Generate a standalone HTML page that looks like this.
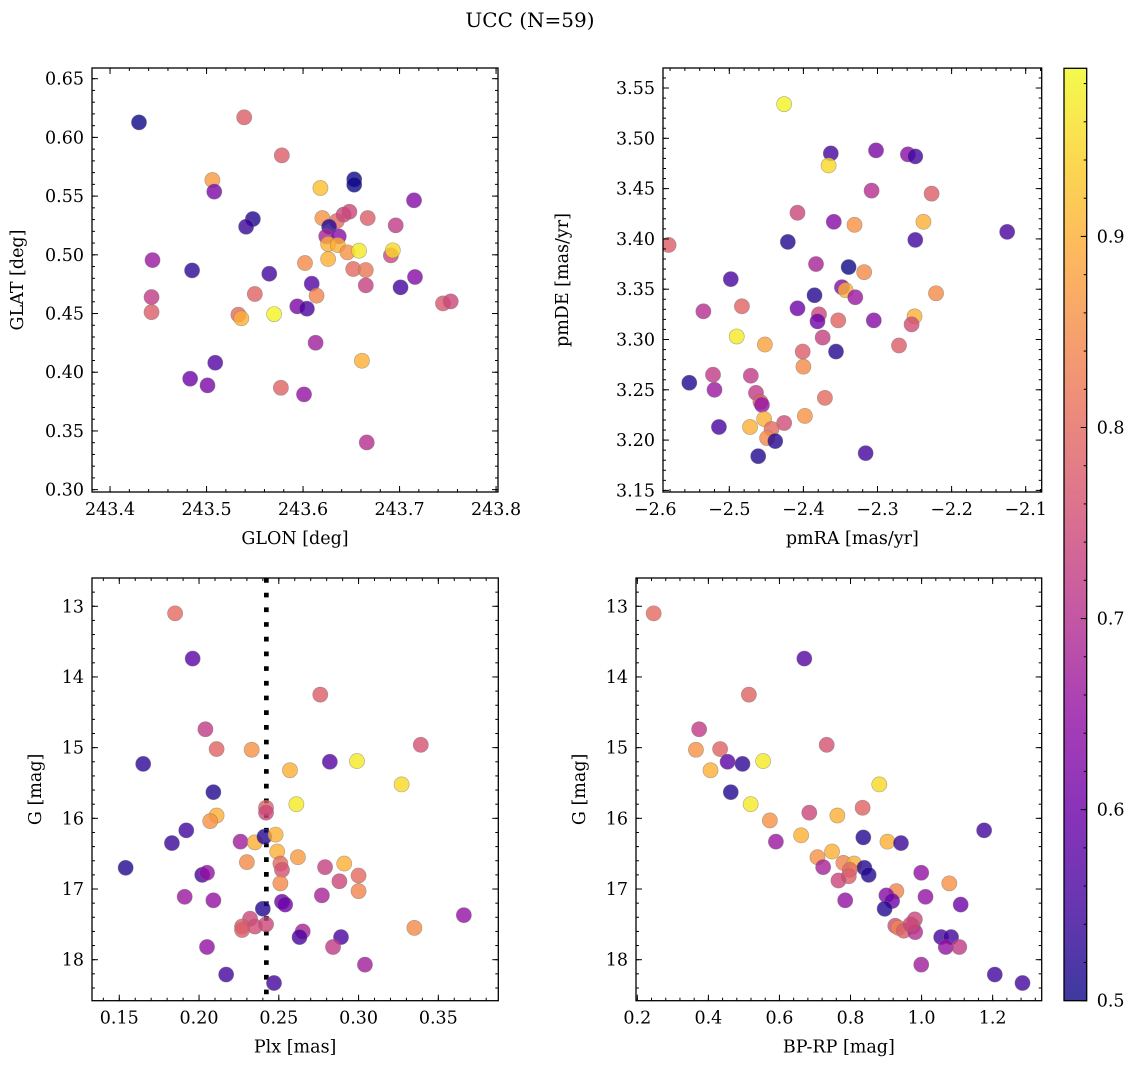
<!DOCTYPE html>
<html><head><meta charset="utf-8"><style>
html,body{margin:0;padding:0;background:#fff;}
svg{display:block;font-family:"DejaVu Serif","Liberation Serif",serif;}
</style></head><body>
<svg id="fig" width="1136" height="1068" viewBox="0 0 1136 1068" xmlns="http://www.w3.org/2000/svg">
<rect width="1136" height="1068" fill="#fff"/>
<text x="530" y="27" font-size="20" text-anchor="middle">UCC (N=59)</text>
</svg>
<script>
const tlGlon=[243.430,243.539,243.578,243.506,243.508,243.548,243.541,243.618,243.653,243.653,243.715,243.620,243.635,243.642,243.648,243.667,243.696,243.627,243.624,243.637,243.626,243.636,243.646,243.658,243.691,243.693,243.626,243.602,243.444,243.485,243.565,243.652,243.665,243.716,243.609,243.665,243.701,243.550,243.614,243.443,243.443,243.745,243.753,243.594,243.604,243.533,243.536,243.570,243.613,243.661,243.509,243.483,243.501,243.577,243.601,243.666];
const tlGlat=[0.6128,0.6171,0.5847,0.5637,0.5538,0.5305,0.5239,0.5569,0.5643,0.5597,0.5464,0.5313,0.5288,0.5342,0.5367,0.5313,0.5251,0.5239,0.5157,0.5157,0.5092,0.5083,0.5021,0.5035,0.4995,0.5038,0.4964,0.4930,0.4955,0.4867,0.4839,0.4879,0.4870,0.4811,0.4754,0.4740,0.4723,0.4666,0.4652,0.4640,0.4512,0.4586,0.4603,0.4561,0.4541,0.4490,0.4459,0.4495,0.4251,0.4098,0.4081,0.3945,0.3888,0.3868,0.3811,0.3402];
const tlProb=[0.50,0.78,0.78,0.87,0.62,0.52,0.54,0.92,0.50,0.50,0.63,0.86,0.80,0.74,0.74,0.78,0.72,0.52,0.68,0.64,0.90,0.90,0.86,0.97,0.74,0.95,0.90,0.85,0.66,0.53,0.55,0.80,0.82,0.63,0.57,0.73,0.55,0.79,0.84,0.72,0.78,0.77,0.74,0.62,0.56,0.80,0.90,0.98,0.67,0.90,0.57,0.60,0.62,0.79,0.65,0.70];

const trPmra=[-2.426,-2.363,-2.366,-2.302,-2.259,-2.249,-2.308,-2.227,-2.408,-2.359,-2.331,-2.238,-2.582,-2.421,-2.249,-2.125,-2.383,-2.339,-2.318,-2.498,-2.348,-2.343,-2.330,-2.221,-2.385,-2.535,-2.483,-2.408,-2.379,-2.381,-2.353,-2.305,-2.250,-2.254,-2.490,-2.452,-2.374,-2.271,-2.401,-2.356,-2.400,-2.522,-2.554,-2.520,-2.471,-2.464,-2.458,-2.456,-2.371,-2.398,-2.453,-2.426,-2.514,-2.472,-2.443,-2.449,-2.438,-2.461,-2.316];
const trPmde=[3.534,3.485,3.473,3.488,3.484,3.482,3.448,3.445,3.426,3.417,3.414,3.417,3.394,3.397,3.399,3.407,3.375,3.372,3.367,3.360,3.352,3.349,3.342,3.346,3.344,3.328,3.333,3.331,3.325,3.318,3.319,3.319,3.323,3.315,3.303,3.295,3.302,3.294,3.288,3.288,3.273,3.265,3.257,3.250,3.264,3.247,3.238,3.235,3.242,3.224,3.221,3.217,3.213,3.213,3.211,3.202,3.199,3.184,3.187];
const trProb=[0.98,0.55,0.95,0.62,0.64,0.55,0.70,0.78,0.74,0.63,0.86,0.90,0.78,0.52,0.55,0.56,0.68,0.50,0.85,0.56,0.63,0.90,0.66,0.85,0.52,0.70,0.79,0.60,0.74,0.60,0.79,0.63,0.90,0.75,0.97,0.88,0.73,0.78,0.78,0.52,0.85,0.72,0.52,0.66,0.72,0.72,0.79,0.65,0.80,0.86,0.90,0.75,0.56,0.90,0.80,0.85,0.52,0.52,0.55];

const blPlx=[0.185,0.196,0.276,0.204,0.211,0.233,0.339,0.165,0.282,0.299,0.257,0.327,0.209,0.261,0.242,0.242,0.211,0.207,0.192,0.183,0.226,0.235,0.241,0.248,0.249,0.262,0.230,0.251,0.252,0.279,0.291,0.300,0.288,0.251,0.300,0.154,0.202,0.205,0.191,0.209,0.277,0.252,0.254,0.240,0.366,0.232,0.227,0.235,0.242,0.227,0.265,0.263,0.289,0.335,0.205,0.284,0.304,0.217,0.247];
const blG=[13.10,13.74,14.25,14.74,15.02,15.03,14.96,15.23,15.20,15.19,15.32,15.52,15.63,15.80,15.85,15.92,15.96,16.04,16.17,16.35,16.33,16.34,16.26,16.23,16.47,16.55,16.62,16.64,16.73,16.69,16.64,16.81,16.89,16.92,17.03,16.70,16.80,16.77,17.11,17.16,17.09,17.18,17.22,17.28,17.37,17.42,17.53,17.53,17.50,17.58,17.60,17.68,17.68,17.55,17.82,17.82,18.07,18.21,18.33];
const blProb=[0.80,0.58,0.78,0.72,0.79,0.86,0.76,0.53,0.57,0.97,0.90,0.95,0.52,0.97,0.79,0.74,0.90,0.86,0.55,0.54,0.67,0.90,0.52,0.90,0.90,0.87,0.85,0.80,0.76,0.73,0.90,0.80,0.74,0.85,0.84,0.52,0.56,0.65,0.66,0.65,0.68,0.60,0.60,0.52,0.65,0.74,0.78,0.75,0.74,0.78,0.68,0.56,0.56,0.85,0.65,0.72,0.67,0.55,0.55];
const plxMean=[0.2422];

const brBprp=[0.246,0.670,0.514,0.374,0.365,0.433,0.733,0.454,0.496,0.554,0.406,0.881,0.463,0.519,0.834,0.684,0.763,0.573,1.176,0.590,0.661,0.836,0.904,0.942,0.707,0.748,0.723,0.780,0.810,0.839,0.851,0.798,0.795,0.766,0.999,1.078,0.929,0.785,0.901,0.917,1.011,1.110,0.896,0.981,0.926,0.935,0.950,0.975,0.982,0.969,1.055,1.083,1.068,1.106,0.999,1.206,1.284];
const brG=[13.10,13.74,14.25,14.74,15.03,15.02,14.96,15.20,15.23,15.19,15.32,15.52,15.63,15.80,15.85,15.92,15.96,16.03,16.17,16.33,16.24,16.27,16.33,16.35,16.55,16.47,16.69,16.63,16.64,16.70,16.80,16.73,16.82,16.88,16.77,16.92,17.03,17.16,17.09,17.17,17.11,17.22,17.28,17.43,17.52,17.55,17.59,17.53,17.61,17.50,17.68,17.68,17.82,17.82,18.07,18.21,18.33];
const brProb=[0.80,0.57,0.79,0.72,0.86,0.79,0.76,0.58,0.53,0.97,0.90,0.95,0.52,0.97,0.79,0.74,0.90,0.86,0.55,0.66,0.90,0.52,0.90,0.54,0.86,0.90,0.68,0.84,0.90,0.52,0.52,0.80,0.78,0.74,0.65,0.86,0.84,0.65,0.63,0.60,0.65,0.60,0.52,0.74,0.75,0.84,0.78,0.78,0.70,0.74,0.55,0.55,0.65,0.72,0.67,0.55,0.55];

const tlXTicks=[243.4,243.5,243.6,243.7,243.8];
const tlYTicks=[0.30,0.35,0.40,0.45,0.50,0.55,0.60,0.65];
const trXTicks=[-2.6,-2.5,-2.4,-2.3,-2.2,-2.1];
const trYTicks=[3.15,3.20,3.25,3.30,3.35,3.40,3.45,3.50,3.55];
const blXTicks=[0.15,0.20,0.25,0.30,0.35];
const gTicks=[13,14,15,16,17,18];
const brXTicks=[0.2,0.4,0.6,0.8,1.0,1.2];
const cbTicks=[0.5,0.6,0.7,0.8,0.9];
const cbRange=[0.5,0.988];

const FS=17.5;
const NS='http://www.w3.org/2000/svg';
const svg=document.getElementById('fig');
function mk(tag,attrs,parent){const e=document.createElementNS(NS,tag);for(const k in attrs)e.setAttribute(k,attrs[k]);(parent||svg).appendChild(e);return e;}
const stops=[[13,8,135],[65,4,157],[106,0,168],[143,13,164],[177,42,144],[204,71,120],[225,100,98],[242,132,75],[252,166,54],[252,206,37],[240,249,33]];
function plasma(t){t=Math.max(0,Math.min(1,t));const f=t*10;const i=Math.min(9,Math.floor(f));const r=f-i;const a=stops[i],b=stops[i+1];return 'rgb('+[0,1,2].map(k=>Math.round(a[k]+(b[k]-a[k])*r)).join(',')+')';}
function pcol(p){return plasma((p-cbRange[0])/(cbRange[1]-cbRange[0]));}
function fmt(v,d){return v.toFixed(d).replace('-','\u2212');}

function panel(o){
  const g=mk('g',{});
  
  
  const sx=v=>o.x0+(v-o.xmin)/(o.xmax-o.xmin)*(o.x1-o.x0);
  const sy=o.inv?(v=>o.y0+(v-o.ymin)/(o.ymax-o.ymin)*(o.y1-o.y0)):(v=>o.y1-(v-o.ymin)/(o.ymax-o.ymin)*(o.y1-o.y0));
  const cp='cp-'+o.name;
  const cl=mk('clipPath',{id:cp},g);mk('rect',{x:o.x0,y:o.y0,width:o.x1-o.x0,height:o.y1-o.y0},cl);
  const pts=mk('g',{'clip-path':'url(#'+cp+')'},g);
  if(o.vline){const vx=sx(o.vline[0]);const l=mk('line',{x1:vx,x2:vx,y1:o.y0,y2:o.y1,stroke:'#000','stroke-width':4.7,'stroke-dasharray':'4.7 10'},pts);
    
    }
  for(let i=0;i<o.xs.length;i++){
    const c=mk('circle',{cx:sx(o.xs[i]),cy:sy(o.ys[i]),r:7.6,fill:pcol(o.cs[i]),'fill-opacity':0.8,stroke:'#777','stroke-opacity':0.6,'stroke-width':0.6},pts);
    
    
  }
  const tk=mk('g',{stroke:'#000','stroke-width':1},g);
  const mx=o.xminor, my=o.yminor;
  for(let v=Math.ceil(o.xmin/mx)*mx;v<=o.xmax+1e-9;v+=mx){const x=sx(v);mk('line',{x1:x,x2:x,y1:o.y1,y2:o.y1-3},tk);mk('line',{x1:x,x2:x,y1:o.y0,y2:o.y0+3},tk);}
  for(let v=Math.ceil(o.ymin/my)*my;v<=o.ymax+1e-9;v+=my){const y=sy(v);mk('line',{x1:o.x0,x2:o.x0+3,y1:y,y2:y},tk);mk('line',{x1:o.x1,x2:o.x1-3,y1:y,y2:y},tk);}
  o.xt.forEach(v=>{const x=sx(v);if(x>=o.x0-0.5&&x<=o.x1+0.5){mk('line',{x1:x,x2:x,y1:o.y1,y2:o.y1-6},tk);mk('line',{x1:x,x2:x,y1:o.y0,y2:o.y0+6},tk);}
    const t=mk('text',{x:x,y:o.y1+23,'font-size':FS,'text-anchor':'middle'},g);t.textContent=fmt(v,o.xd);
    
    });
  o.yt.forEach(v=>{const y=sy(v);mk('line',{x1:o.x0,x2:o.x0+6,y1:y,y2:y},tk);mk('line',{x1:o.x1,x2:o.x1-6,y1:y,y2:y},tk);
    const t=mk('text',{x:o.x0-8,y:y+6,'font-size':FS,'text-anchor':'end'},g);t.textContent=fmt(v,o.yd);
    
    });
  mk('rect',{x:o.x0,y:o.y0,width:o.x1-o.x0,height:o.y1-o.y0,fill:'none',stroke:'#000','stroke-width':1.3},g);
  const xl=mk('text',{x:(o.x0+o.x1)/2,y:o.y1+52,'font-size':FS,'text-anchor':'middle'},g);xl.textContent=o.xlabel;
  
  
  const ym=(o.y0+o.y1)/2;
  const yl=mk('text',{x:o.ylx,y:ym,'font-size':FS,'text-anchor':'middle',transform:'rotate(-90 '+o.ylx+' '+ym+')'},g);yl.textContent=o.ylabel;
  
  
}
panel({name:'glon-glat-panel',x0:92,x1:498,y0:68,y1:492,xmin:243.3813,xmax:243.802,ymin:0.298,ymax:0.6591,xs:tlGlon,ys:tlGlat,cs:tlProb,xt:tlXTicks,yt:tlYTicks,xd:1,yd:2,xminor:0.02,yminor:0.01,xlabel:'GLON [deg]',ylabel:'GLAT [deg]',ylx:23});
panel({name:'pm-panel',x0:663,x1:1041.7,y0:68,y1:492,xmin:-2.5895,xmax:-2.0784,ymin:3.1484,ymax:3.5699,xs:trPmra,ys:trPmde,cs:trProb,xt:trXTicks,yt:trYTicks,xd:1,yd:2,xminor:0.02,yminor:0.01,xlabel:'pmRA [mas/yr]',ylabel:'pmDE [mas/yr]',ylx:568});
panel({name:'plx-g-panel',x0:92,x1:498.3,y0:578,y1:1000.7,xmin:0.1329,xmax:0.3876,ymin:12.6,ymax:18.58,inv:true,xs:blPlx,ys:blG,cs:blProb,xt:blXTicks,yt:gTicks,xd:2,yd:0,xminor:0.01,yminor:0.2,xlabel:'Plx [mas]',ylabel:'G [mag]',ylx:41,vline:plxMean});
panel({name:'cmd-panel',x0:636,x1:1041.7,y0:578,y1:1000.7,xmin:0.1963,xmax:1.338,ymin:12.6,ymax:18.58,inv:true,xs:brBprp,ys:brG,cs:brProb,xt:brXTicks,yt:gTicks,xd:1,yd:0,xminor:0.04,yminor:0.2,xlabel:'BP-RP [mag]',ylabel:'G [mag]',ylx:585});

const cb=mk('g',{});


const defs=mk('defs',{},cb);
const lg=mk('linearGradient',{id:'cbg',x1:0,y1:1,x2:0,y2:0},defs);
for(let i=0;i<=20;i++){mk('stop',{offset:(i/20),'stop-color':plasma(i/20)},lg);}
const cbx0=1064,cbx1=1086.7,cby0=68.3,cby1=1000.7;
mk('rect',{x:cbx0,y:cby0,width:cbx1-cbx0,height:cby1-cby0,fill:'url(#cbg)','fill-opacity':0.8},cb);
const cy=v=>cby1-(v-cbRange[0])/(cbRange[1]-cbRange[0])*(cby1-cby0);
for(let v=0.5;v<=cbRange[1]+1e-9;v+=0.02){mk('line',{x1:cbx1,x2:cbx1-3,y1:cy(v),y2:cy(v),stroke:'#000','stroke-width':1},cb);}
cbTicks.forEach(v=>{mk('line',{x1:cbx1,x2:cbx1-6,y1:cy(v),y2:cy(v),stroke:'#000','stroke-width':1},cb);
  const t=mk('text',{x:cbx1+10,y:cy(v)+6,'font-size':FS},cb);t.textContent=v.toFixed(1);
  
  });
mk('rect',{x:cbx0,y:cby0,width:cbx1-cbx0,height:cby1-cby0,fill:'none',stroke:'#000','stroke-width':1.3},cb);
</script>
</body></html>
